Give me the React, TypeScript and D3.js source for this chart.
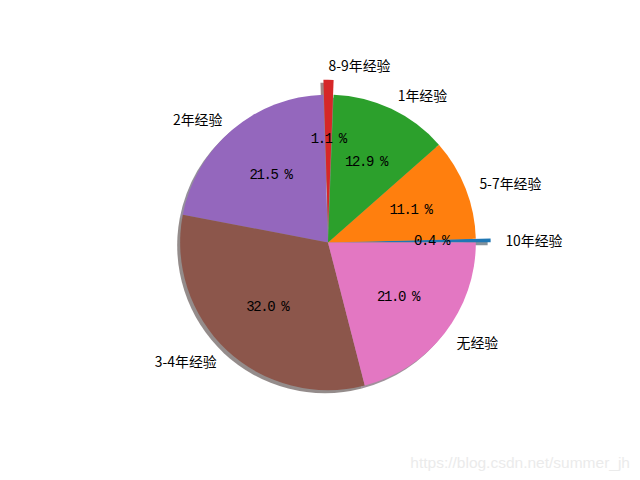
import React from "react";
import * as d3 from "d3";

// slices in the order they were passed to the pie (counterclockwise from 3 o'clock)
const labels = ["10年经验", "5-7年经验", "1年经验", "8-9年经验", "2年经验", "3-4年经验", "无经验"];
const shares = [0.4, 11.1, 12.9, 1.1, 21.5, 32.0, 21.0];
const explode = [0.1, 0, 0, 0.1, 0, 0, 0];
const colors = ["#1f77b4", "#ff7f0e", "#2ca02c", "#d62728", "#9467bd", "#8c564b", "#e377c2"];

const W = 640;
const H = 480;

export default function App() {
  // axes box of a default 6.4x4.8in figure, equal aspect, limits +-1.25
  const cx = W * (0.125 + 0.9) / 2;
  const half = (H * 0.77) / 2;
  const cy = H * (1 - 0.88) + half;
  const x = d3.scaleLinear().domain([-1.25, 1.25]).range([cx - half, cx + half]);
  const y = d3.scaleLinear().domain([-1.25, 1.25]).range([cy + half, cy - half]);
  const r = x(1) - x(0);

  const pie = d3.pie<number>().sort(null).startAngle(Math.PI / 2).endAngle(Math.PI / 2 - 2 * Math.PI);
  const arcs = pie(shares);
  const arc = d3.arc<d3.PieArcDatum<number>>().innerRadius(0).outerRadius(r);

  const slices = arcs.map((a, i) => {
    const theta = Math.PI / 2 - (a.startAngle + a.endAngle) / 2;
    const e = explode[i];
    const ox = e * Math.cos(theta);
    const oy = e * Math.sin(theta);
    return {
      i,
      path: arc(a) as string,
      tx: x(ox),
      ty: y(oy),
      lx: x(ox + 1.1 * Math.cos(theta)),
      ly: y(oy + 1.1 * Math.sin(theta)),
      px: x(ox + 0.6 * Math.cos(theta)),
      py: y(oy + 0.6 * Math.sin(theta)),
      anchor: Math.cos(theta) > 0 ? "start" : "end",
    };
  });

  const shadowDx = x(-0.02) - x(0);
  const shadowDy = y(-0.02) - y(0);
  const shade = (c: string) => {
    const rgb = d3.rgb(c);
    return d3.rgb(rgb.r * 0.3, rgb.g * 0.3, rgb.b * 0.3).toString();
  };

  return (
    <div style={{ position: "fixed", left: 0, top: 0 }}>
      <svg width={W} height={H} style={{ display: "block", background: "#fff" }}>
        {slices.map((s) => (
          <path
            key={"sh" + s.i}
            d={s.path}
            transform={`translate(${s.tx + shadowDx},${s.ty + shadowDy})`}
            fill={shade(colors[s.i])}
            opacity={0.5}
          />
        ))}
        {slices.map((s) => (
          <path key={"w" + s.i} d={s.path} transform={`translate(${s.tx},${s.ty})`} fill={colors[s.i]} />
        ))}
        {slices.map((s) => (
          <text
            key={"l" + s.i}
            x={s.lx}
            y={s.ly}
            textAnchor={s.anchor}
            dominantBaseline="central"
            fontFamily="'Noto Sans CJK SC', sans-serif"
            fontSize={13.9}
            fill="#000"
          >
            {labels[s.i]}
          </text>
        ))}
        {slices.map((s) => (
          <text
            key={"p" + s.i}
            x={s.px}
            y={s.py}
            textAnchor="middle"
            dominantBaseline="central"
            fontFamily="'Liberation Mono', 'DejaVu Sans Mono', monospace"
            fontSize={14}
            letterSpacing={-1.4}
            fill="#000"
          >
            {`${shares[s.i].toFixed(1)} %`}
          </text>
        ))}
        <text
          x={630}
          y={468}
          textAnchor="end"
          fontFamily="'Liberation Sans', Arial, sans-serif"
          fontSize={15.5}
          fill="#ebebeb"
        >
          https://blog.csdn.net/summer_jh
        </text>
      </svg>
    </div>
  );
}
